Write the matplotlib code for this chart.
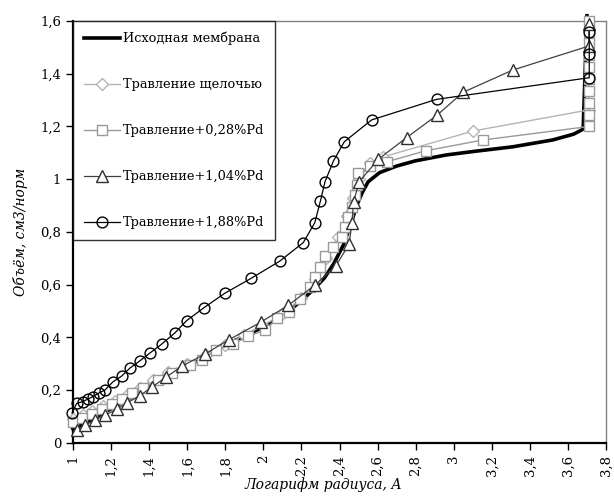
import matplotlib
matplotlib.use("Agg")
import matplotlib.pyplot as plt
from matplotlib.ticker import FuncFormatter, MultipleLocator

# data (x = log radius, y = volume)
base_x = [1.0, 1.1, 1.2, 1.3, 1.4, 1.5, 1.6, 1.7, 1.8, 1.9, 2.0, 2.1, 2.2, 2.26, 2.32,
          2.37, 2.42, 2.46, 2.49, 2.52, 2.55, 2.61, 2.7, 2.8, 2.96, 3.1, 3.31, 3.52,
          3.63, 3.68, 3.7]
base_y = [0.053, 0.09, 0.13, 0.17, 0.21, 0.25, 0.29, 0.33, 0.372, 0.405, 0.44, 0.48,
          0.54, 0.58, 0.625, 0.68, 0.75, 0.83, 0.9, 0.95, 0.99, 1.025, 1.05, 1.07,
          1.092, 1.105, 1.123, 1.149, 1.171, 1.19, 1.62]

alk_x = [1.0, 1.05, 1.1, 1.16, 1.22, 1.28, 1.35, 1.42, 1.5, 1.6, 1.7, 1.8, 1.9, 2.0,
         2.1, 2.2, 2.27, 2.33, 2.39, 2.44, 2.47, 2.5, 2.56, 2.63, 3.103, 3.71]
alk_y = [0.09, 0.105, 0.12, 0.14, 0.16, 0.18, 0.21, 0.24, 0.27, 0.3, 0.335, 0.37,
         0.41, 0.445, 0.49, 0.55, 0.62, 0.7, 0.78, 0.86, 0.93, 1.0, 1.06, 1.085,
         1.183, 1.263]

pd028_x = [1.0, 1.046, 1.098, 1.151, 1.203, 1.256, 1.308, 1.369, 1.448, 1.518, 1.615,
           1.676, 1.751, 1.842, 1.921, 2.009, 2.07, 2.136, 2.192, 2.245, 2.271, 2.298,
           2.324, 2.368, 2.411, 2.429, 2.446, 2.464, 2.481, 2.49, 2.499, 2.56, 2.648,
           2.853, 3.155, 3.71, 3.71, 3.71, 3.71, 3.71, 3.71, 3.71, 3.71, 3.71, 3.71]
pd028_y = [0.081, 0.094, 0.11, 0.129, 0.148, 0.166, 0.188, 0.21, 0.239, 0.264, 0.296,
           0.315, 0.353, 0.375, 0.405, 0.428, 0.473, 0.498, 0.545, 0.593, 0.631, 0.668,
           0.708, 0.744, 0.782, 0.82, 0.858, 0.896, 0.94, 0.978, 1.023, 1.05, 1.066,
           1.108, 1.149, 1.2, 1.245, 1.29, 1.335, 1.38, 1.425, 1.47, 1.515, 1.56, 1.6]

pd104_x = [1.02, 1.063, 1.116, 1.17, 1.23, 1.285, 1.352, 1.416, 1.49, 1.574, 1.693,
           1.82, 1.986, 2.131, 2.271, 2.38, 2.45, 2.465, 2.474, 2.504, 2.604, 2.753,
           2.914, 3.05, 3.31, 3.71, 3.71]
pd104_y = [0.05, 0.068, 0.087, 0.106, 0.128, 0.152, 0.18, 0.213, 0.25, 0.292, 0.337,
           0.392, 0.458, 0.522, 0.599, 0.671, 0.753, 0.833, 0.915, 0.991, 1.076, 1.158,
           1.244, 1.33, 1.414, 1.505, 1.59]

pd188_x = [0.995, 1.019, 1.051, 1.079, 1.105, 1.137, 1.168, 1.21, 1.256, 1.299, 1.352,
           1.404, 1.466, 1.536, 1.597, 1.688, 1.798, 1.935, 2.087, 2.21, 2.27, 2.30,
           2.324, 2.368, 2.425, 2.569, 2.91, 3.712, 3.712, 3.712]
pd188_y = [0.114, 0.15, 0.157, 0.167, 0.176, 0.19, 0.201, 0.232, 0.254, 0.284, 0.312,
           0.341, 0.375, 0.418, 0.464, 0.513, 0.568, 0.624, 0.69, 0.76, 0.835, 0.918,
           0.991, 1.069, 1.142, 1.225, 1.303, 1.385, 1.474, 1.559]

labels = ["Исходная мембрана", "Травление щелочью", "Травление+0,28%Pd",
          "Травление+1,04%Pd", "Травление+1,88%Pd"]

plt.rcParams['font.family'] = ['DejaVu Serif']

fig = plt.figure(figsize=(6.14, 4.98), dpi=100)
ax = fig.add_axes([73/614, 55/498, 533/614, 422/498])

ax.plot(base_x, base_y, color='black', lw=2.6, label=labels[0], clip_on=False, zorder=2)
ax.plot(alk_x, alk_y, color='#b4b4b4', lw=1, marker='D', ms=6.5, mfc='white',
        mec='#b4b4b4', mew=1, label=labels[1], clip_on=False, zorder=3)
ax.plot(pd028_x, pd028_y, color='#999999', lw=1, marker='s', ms=7.5, mfc='white',
        mec='#999999', mew=1, label=labels[2], clip_on=False, zorder=4)
ax.plot(pd104_x, pd104_y, color='#404040', lw=0.9, marker='^', ms=8.5, mfc='white',
        mec='#303030', mew=1, label=labels[3], clip_on=False, zorder=5)
ax.plot(pd188_x, pd188_y, color='black', lw=0.9, marker='o', ms=7.8, mfc='none',
        mec='black', mew=1, label=labels[4], clip_on=False, zorder=6)

ax.set_xlim(1, 3.8)
ax.set_ylim(0, 1.6)
ax.xaxis.set_major_locator(MultipleLocator(0.2))
ax.yaxis.set_major_locator(MultipleLocator(0.2))
comma = FuncFormatter(lambda v, p: ('%g' % round(v, 2)).replace('.', ','))
ax.xaxis.set_major_formatter(comma)
ax.yaxis.set_major_formatter(comma)
ax.tick_params(axis='both', direction='out', length=5, width=1, labelsize=9.5, color='black')
ax.tick_params(axis='x', labelrotation=90)
for lab in ax.get_xticklabels():
    lab.set_va('top')

for s in ['left', 'bottom']:
    ax.spines[s].set_color('black')
    ax.spines[s].set_linewidth(1.6)
for s in ['top', 'right']:
    ax.spines[s].set_color('#808080')
    ax.spines[s].set_linewidth(1)

ax.set_xlabel("Логарифм радиуса, А", style='italic', fontsize=10, labelpad=2)
ax.xaxis.set_label_coords(0.47, -0.082)
ax.set_ylabel("Объём, см3/норм", style='italic', fontsize=10)
ax.yaxis.set_label_coords(-0.085, 0.5)

leg = ax.legend(loc='upper left', bbox_to_anchor=(0, 1), borderaxespad=0,
                frameon=True, fancybox=False, fontsize=9.3, labelspacing=2.55,
                handlelength=2.8, handletextpad=0.2, borderpad=0.85)
leg.get_frame().set_edgecolor('black')
leg.get_frame().set_linewidth(1)
leg.set_zorder(10)

fig.savefig("out.png", dpi=100)
